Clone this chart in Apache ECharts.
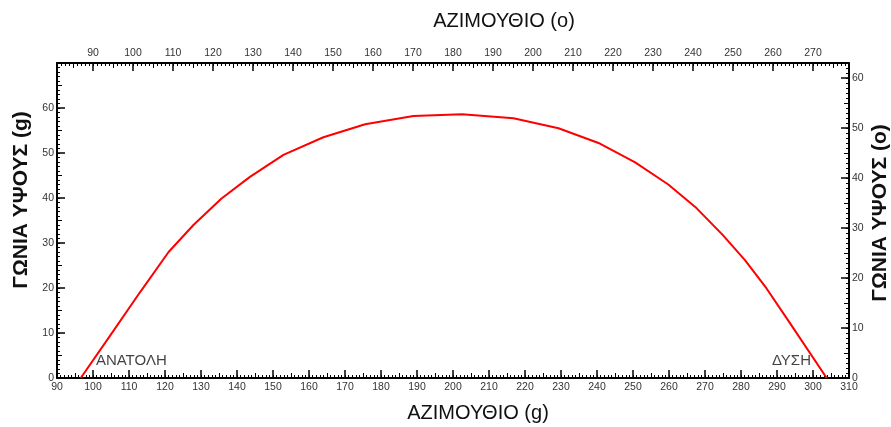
<!DOCTYPE html>
<html>
<head>
<meta charset="utf-8">
<script src="https://cdn.jsdelivr.net/npm/echarts@6/dist/echarts.min.js"></script>
<style>
  html, body { margin: 0; padding: 0; background: #fff; }
  #chart { width: 891px; height: 427px; }
</style>
</head>
<body>
<div id="chart"></div>
<script>
// Sun path: azimuth vs altitude, both in grads (g); top/right axes show degrees (o)
const azimuthG = [96.6, 105.0, 113.1, 121.0, 127.9, 135.7, 143.6, 152.9, 164.0, 175.6, 189.0, 202.5,
                  216.8, 229.3, 240.8, 250.6, 259.8, 267.7, 274.9, 281.1, 287.1, 293.6, 303.8];
const altitudeG = [0, 9.7, 19.1, 28.0, 34.0, 39.9, 44.7, 49.6, 53.5, 56.4, 58.2, 58.6,
                   57.7, 55.5, 52.1, 47.9, 43.0, 37.7, 31.8, 26.2, 19.9, 12.2, 0];

// Labelled ticks on each side
const bottomTicksG = [90, 100, 110, 120, 130, 140, 150, 160, 170, 180, 190, 200, 210, 220, 230, 240, 250, 260, 270, 280, 290, 300, 310];
const topTicksDeg = [90, 100, 110, 120, 130, 140, 150, 160, 170, 180, 190, 200, 210, 220, 230, 240, 250, 260, 270];
const leftTicksG = [0, 10, 20, 30, 40, 50, 60];
const rightTicksDeg = [0, 10, 20, 30, 40, 50, 60];

// Axis ranges (degrees = grads * 0.9)
const azRangeG = [90, 310];
const azRangeDeg = [81, 279];
const altRangeG = [0, 70];
const altRangeDeg = [0, 63];

// Horizon labels
const eastLabel = { name: 'ΑΝΑΤΟΛΗ', az: 100.8, alt: 2.2 };
const westLabel = { name: 'ΔΥΣΗ', az: 288.6, alt: 2.2 };

function steps(from, to, step) {
  const out = [];
  for (let v = from; v <= to + 1e-9; v += step) out.push(Math.round(v * 100) / 100);
  return out;
}

const TICK_COLOR = '#000';
const LABEL_FONT = '"Liberation Sans", Arial, sans-serif';

function majorAxis(position, range, ticks, margin, labelExtra) {
  return {
    type: 'value', position, min: range[0], max: range[1], offset: 0,
    axisLine: { show: true, onZero: false, lineStyle: { color: TICK_COLOR, width: 2 } },
    axisTick: { show: true, inside: true, length: 8, customValues: ticks, lineStyle: { color: TICK_COLOR, width: 1.5 } },
    axisLabel: Object.assign({ show: true, customValues: ticks, margin, color: '#333', fontSize: 10.5, fontFamily: LABEL_FONT }, labelExtra || {}),
    splitLine: { show: false }, minorTick: { show: false }
  };
}

function tickOnlyAxis(position, range, ticks, len) {
  return {
    type: 'value', position, min: range[0], max: range[1], offset: 0,
    axisLine: { show: false, onZero: false },
    axisTick: { show: true, inside: true, length: len, customValues: ticks, lineStyle: { color: TICK_COLOR, width: 1 } },
    axisLabel: { show: false },
    splitLine: { show: false }
  };
}

const chart = echarts.init(document.getElementById('chart'), null, { renderer: 'canvas' });

const TITLE_FONT = '"Liberation Sans", Arial, sans-serif';

chart.setOption({
  animation: false,
  backgroundColor: '#fff',
  grid: { left: 57, right: 42, top: 63, bottom: 49, containLabel: false },
  xAxis: [
    majorAxis('bottom', azRangeG, bottomTicksG, 4),
    majorAxis('top', azRangeDeg, topTicksDeg, 4),
    tickOnlyAxis('bottom', azRangeG, steps(95, 305, 10), 5),
    tickOnlyAxis('bottom', azRangeG, steps(91, 309, 1), 3),
    tickOnlyAxis('top', azRangeDeg, steps(85, 275, 10), 5),
    tickOnlyAxis('top', azRangeDeg, steps(82, 278, 1), 3)
  ],
  yAxis: [
    majorAxis('left', altRangeG, leftTicksG, 3),
    majorAxis('right', altRangeDeg, rightTicksDeg, 3, { padding: [0, 0, 6, 0] }),
    tickOnlyAxis('left', altRangeG, steps(5, 65, 10), 5),
    tickOnlyAxis('left', altRangeG, steps(1, 69, 1), 3),
    tickOnlyAxis('right', altRangeDeg, steps(5, 55, 10), 5),
    tickOnlyAxis('right', altRangeDeg, steps(1, 62, 1), 3)
  ],
  series: [
    {
      type: 'line',
      xAxisIndex: 0, yAxisIndex: 0,
      data: azimuthG.map((a, i) => [a, altitudeG[i]]),
      symbol: 'none',
      lineStyle: { color: '#ff0000', width: 2 },
      z: 5
    },
    {
      type: 'scatter',
      xAxisIndex: 0, yAxisIndex: 0,
      symbolSize: 0,
      data: [
        { value: [eastLabel.az, eastLabel.alt], name: eastLabel.name },
        { value: [westLabel.az, westLabel.alt], name: westLabel.name }
      ],
      label: {
        show: true, formatter: p => p.name, position: [0, 0],
        align: 'left', verticalAlign: 'bottom',
        fontSize: 15, fontFamily: TITLE_FONT, color: '#111'
      },
      silent: true, z: 4
    }
  ],
  graphic: [
    { type: 'text', x: 504, y: 21, style: { text: 'ΑΖΙΜΟΥΘΙΟ (o)', font: '20px ' + TITLE_FONT, fill: '#111', align: 'center', verticalAlign: 'middle' } },
    { type: 'text', x: 478, y: 413, style: { text: 'ΑΖΙΜΟΥΘΙΟ (g)', font: '20px ' + TITLE_FONT, fill: '#111', align: 'center', verticalAlign: 'middle' } },
    { type: 'text', x: 21, y: 200, rotation: Math.PI / 2, style: { text: 'ΓΩΝΙΑ ΥΨΟΥΣ (g)', font: 'bold 21px ' + TITLE_FONT, fill: '#111', align: 'center', verticalAlign: 'middle' } },
    { type: 'text', x: 880, y: 213, rotation: Math.PI / 2, style: { text: 'ΓΩΝΙΑ ΥΨΟΥΣ (o)', font: 'bold 21px ' + TITLE_FONT, fill: '#111', align: 'center', verticalAlign: 'middle' } }
  ]
});
</script>
</body>
</html>
